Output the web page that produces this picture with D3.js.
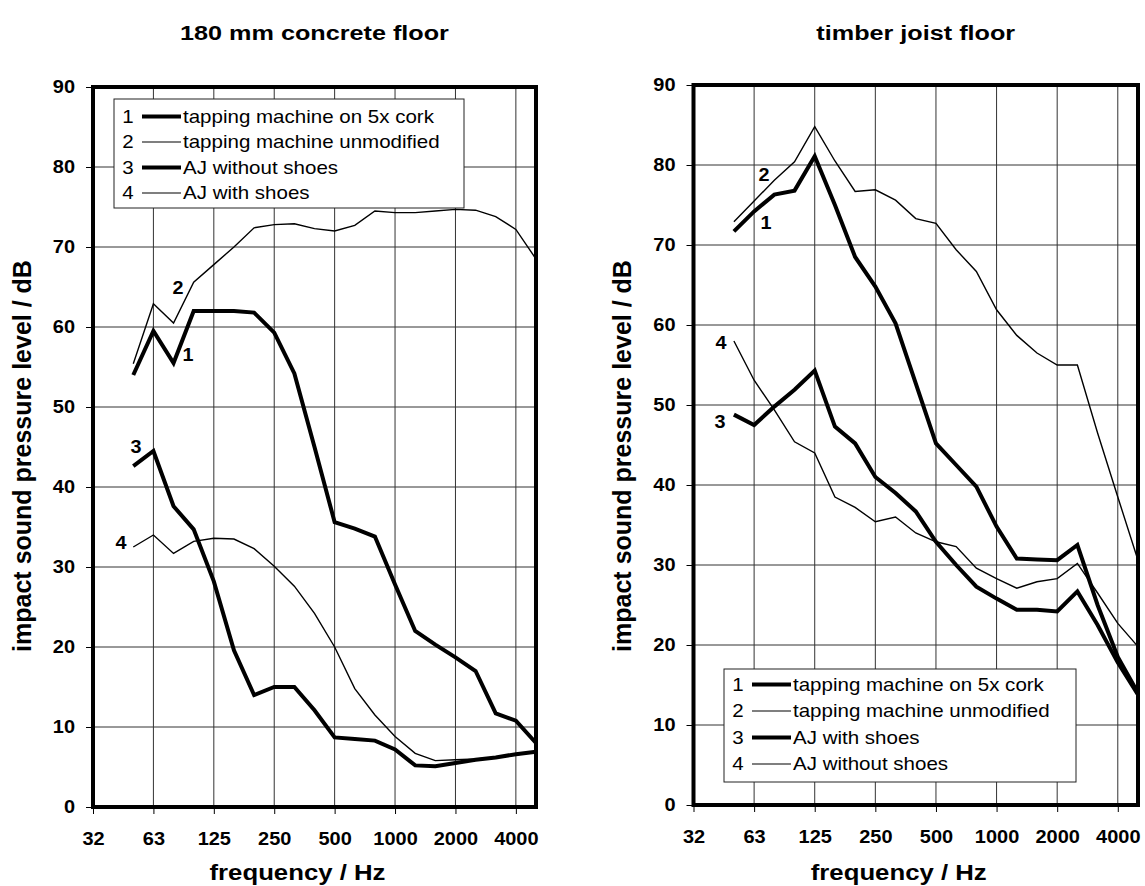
<!DOCTYPE html>
<html>
<head>
<meta charset="utf-8">
<script src="https://cdn.jsdelivr.net/npm/d3@7"></script>
<style>
  html, body { margin: 0; padding: 0; background: #fff; }
  svg { display: block; }
  text { font-family: Arial, "Liberation Sans", sans-serif; fill: #000; }
</style>
</head>
<body>
<svg id="chart" width="1145" height="886"></svg>
<script>
// ---- data ----
const bands = ["32","40","50","63","80","100","125","160","200","250","315","400","500","630","800","1000","1250","1600","2000","2500","3150","4000","5000"];
const tickBands = ["32","63","125","250","500","1000","2000","4000"];
const dataBands = ["50","63","80","100","125","160","200","250","315","400","500","630","800","1000","1250","1600","2000","2500","3150","4000","5000"];
const yTicks = [0,10,20,30,40,50,60,70,80,90];

// 180 mm concrete floor
const concreteCork      = [54.0,59.5,55.5,62.0,62.0,62.0,61.8,59.3,54.2,45.0,35.6,34.8,33.8,27.8,22.0,20.3,18.7,17.0,11.7,10.8,8.0];
const concreteTapping   = [55.4,62.9,60.5,65.6,67.8,70.0,72.4,72.8,72.9,72.3,72.0,72.7,74.5,74.3,74.3,74.5,74.7,74.6,73.8,72.2,68.5];
const concreteNoShoes   = [42.6,44.5,37.6,34.7,28.2,19.6,14.0,15.0,15.0,12.1,8.7,8.5,8.3,7.2,5.2,5.1,5.5,5.9,6.2,6.6,6.9];
const concreteShoes     = [32.5,34.0,31.7,33.2,33.6,33.5,32.3,30.1,27.6,24.2,20.0,14.8,11.5,8.8,6.7,5.8,5.9,6.0,6.2,6.5,6.9];

// timber joist floor
const timberCork        = [71.7,74.2,76.3,76.8,81.1,75.0,68.5,64.8,60.2,52.7,45.2,42.5,39.8,34.8,30.8,30.7,30.6,32.5,25.0,18.5,14.0];
const timberTapping     = [72.9,75.5,78.1,80.4,84.8,80.5,76.7,76.9,75.6,73.3,72.7,69.4,66.7,61.9,58.7,56.5,55.0,55.0,46.5,38.5,30.6];
const timberShoes       = [48.8,47.5,49.8,51.9,54.3,47.3,45.2,41.0,39.0,36.7,32.9,30.0,27.3,25.8,24.4,24.4,24.2,26.7,22.5,17.8,13.8];
const timberNoShoes     = [58.0,53.1,49.4,45.4,44.0,38.5,37.2,35.4,36.0,34.0,32.9,32.3,29.6,28.3,27.1,27.9,28.3,30.2,26.5,22.7,19.8];

const concreteLegend = ["tapping machine on 5x cork","tapping machine unmodified","AJ without shoes","AJ with shoes"];
const timberLegend   = ["tapping machine on 5x cork","tapping machine unmodified","AJ with shoes","AJ without shoes"];
const seriesNumbers  = ["1","2","3","4"];
const seriesThick    = [true,false,true,false];

const titles = ["180 mm concrete floor","timber joist floor"];
const xTitle = "frequency / Hz";
const yTitle = "impact sound pressure level / dB";

// ---- layout ----
const panels = [
  { title: titles[0], series: [concreteCork, concreteTapping, concreteNoShoes, concreteShoes], legend: concreteLegend,
    left: 93, right: 536, top: 87, bottom: 807, titleY: 40, yTitleBase: 31, yTitleY: 456, xTitleOff: -17,
    legendBox: {x: 114, y: 99, w: 350, h: 109, row0: 116.5, rowStep: 25.5},
    labels: [{x:188,y:355},{x:178,y:288},{x:136,y:447},{x:121,y:543}] },
  { title: titles[1], series: [timberCork, timberTapping, timberShoes, timberNoShoes], legend: timberLegend,
    left: 693.5, right: 1138, top: 85, bottom: 805, titleY: 40, yTitleBase: 631, yTitleY: 456, xTitleOff: -17,
    legendBox: {x: 724, y: 669, w: 352, h: 113, row0: 684.5, rowStep: 26.5},
    labels: [{x:766,y:223},{x:764,y:175},{x:720,y:422},{x:721,y:343}] }
];

// horizontal stretch of glyphs (the source image is slightly wide)
function stretch(sel, sx) {
  sel.each(function() {
    const t = d3.select(this);
    const tx = +t.attr("x") || 0, ty = +t.attr("y") || 0;
    t.attr("transform", `translate(${tx},${ty}) scale(${sx},1) translate(${-tx},${-ty})`);
  });
}

const svg = d3.select("#chart");

panels.forEach(p => {
  const g = svg.append("g");
  const x = d3.scalePoint().domain(bands).range([p.left, p.right]);
  const y = d3.scaleLinear().domain([0, 90]).range([p.bottom, p.top]);
  const cx = (p.left + p.right) / 2;

  // grid
  g.append("g").selectAll("line").data(yTicks.slice(1, -1)).join("line")
    .attr("x1", p.left).attr("x2", p.right)
    .attr("y1", d => y(d)).attr("y2", d => y(d))
    .attr("stroke", "#333").attr("stroke-width", 1);
  g.append("g").selectAll("line").data(tickBands.slice(1)).join("line")
    .attr("x1", d => x(d)).attr("x2", d => x(d))
    .attr("y1", p.top).attr("y2", p.bottom)
    .attr("stroke", "#333").attr("stroke-width", 1);

  // axes
  const yAxis = d3.axisLeft(y).tickValues(yTicks).tickSize(7).tickPadding(11);
  const ya = g.append("g").attr("transform", `translate(${p.left},0)`).call(yAxis);
  ya.select(".domain").remove();
  ya.selectAll("line").attr("stroke", "#000").attr("stroke-width", 1);
  ya.selectAll("text").attr("font-size", 18.5).attr("font-weight", "bold")
    .attr("font-family", "Arial, 'Liberation Sans', sans-serif").call(stretch, 1.08);

  const xAxis = d3.axisBottom(x).tickValues(tickBands).tickSize(7).tickPadding(18);
  const xa = g.append("g").attr("transform", `translate(0,${p.bottom})`).call(xAxis);
  xa.select(".domain").remove();
  xa.selectAll("line").attr("stroke", "#000").attr("stroke-width", 1);
  xa.selectAll("text").attr("font-size", 18.5).attr("font-weight", "bold")
    .attr("font-family", "Arial, 'Liberation Sans', sans-serif").call(stretch, 1.08);

  // series lines
  const line = d3.line().x((d, i) => x(dataBands[i])).y(d => y(d));
  p.series.forEach((s, i) => {
    g.append("path").datum(s).attr("d", line).attr("fill", "none")
      .attr("stroke", "#000").attr("stroke-width", seriesThick[i] ? 4 : 1.4)
      .attr("stroke-linejoin", "miter");
  });

  // frame
  g.append("rect").attr("x", p.left).attr("y", p.top)
    .attr("width", p.right - p.left).attr("height", p.bottom - p.top)
    .attr("fill", "none").attr("stroke", "#000").attr("stroke-width", 4);

  // series number labels
  p.labels.forEach((l, i) => {
    g.append("text").attr("x", l.x).attr("y", l.y + 6)
      .attr("text-anchor", "middle").attr("font-size", 18).attr("font-weight", "bold")
      .text(seriesNumbers[i]).call(stretch, 1.1);
  });

  // legend
  const lb = p.legendBox;
  const lg = g.append("g");
  lg.append("rect").attr("x", lb.x).attr("y", lb.y).attr("width", lb.w).attr("height", lb.h)
    .attr("fill", "#fff").attr("stroke", "#222").attr("stroke-width", 1);
  p.legend.forEach((name, i) => {
    const ry = lb.row0 + i * lb.rowStep;
    lg.append("text").attr("x", lb.x + 14).attr("y", ry + 6.5)
      .attr("text-anchor", "middle").attr("font-size", 18).text(seriesNumbers[i]).call(stretch, 1.14);
    lg.append("line").attr("x1", lb.x + 28).attr("x2", lb.x + 67).attr("y1", ry).attr("y2", ry)
      .attr("stroke", "#000").attr("stroke-width", seriesThick[i] ? 4 : 1.2);
    lg.append("text").attr("x", lb.x + 69).attr("y", ry + 6.5)
      .attr("font-size", 18).text(name).call(stretch, 1.14);
  });

  // titles
  g.append("text").attr("x", cx).attr("y", p.titleY).attr("text-anchor", "middle")
    .attr("font-size", 21).attr("font-weight", "bold").text(p.title).call(stretch, 1.2);
  g.append("text").attr("x", cx + p.xTitleOff).attr("y", 880).attr("text-anchor", "middle")
    .attr("font-size", 23).attr("font-weight", "bold").text(xTitle).call(stretch, 1.12);
  g.append("text").attr("transform", `translate(${p.yTitleBase},${p.yTitleY}) rotate(-90)`)
    .attr("text-anchor", "middle").attr("font-size", 25).attr("font-weight", "bold").text(yTitle);
});
</script>
</body>
</html>
